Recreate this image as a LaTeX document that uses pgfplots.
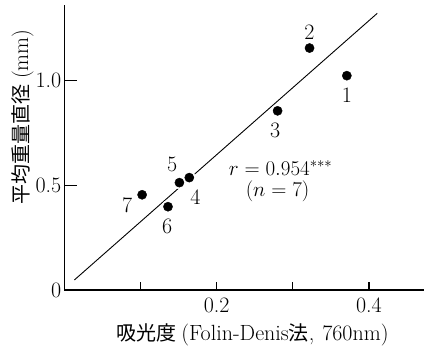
\documentclass[border=0pt]{standalone}
\usepackage{fix-cm}
\usepackage{fontspec}
\usepackage{pgfplots}
\pgfplotsset{compat=1.18}
\newfontfamily\cjk{Noto Sans CJK JP}
\newcommand\bigf{\fontsize{22}{26}\selectfont}
\newcommand\mathf{\fontsize{21}{25}\selectfont}
\newcommand\cjkf{\cjk\fontsize{20}{24}\selectfont}
\begin{document}
\begin{tikzpicture}[x=1pt,y=1pt, every node/.append style={font=\bigf}]
\useasboundingbox (-64.5,-61) rectangle (359.5,290);
\begin{axis}[
  at={(0,0)}, anchor=south west,
  scale only axis, width=359.5pt, height=285pt,
  xmin=0, xmax=0.4724, ymin=0, ymax=1.3617,
  axis lines=left,
  axis line style={-, line width=1.2pt, black},
  tick align=inside, major tick length=8pt,
  tick style={line width=1.2pt, black},
  xtick={0.1,0.2,0.3,0.4}, xticklabels={,0.2,,0.4},
  ytick={0}, yticklabels={0},
  extra y ticks={0.5,1}, extra y tick labels={0.5,1.0},
  extra y tick style={major tick length=13pt},
  /pgf/number format/assume math mode=true,
  ticklabel style={font=\bigf, inner sep=3pt},
  xticklabel style={yshift=-5pt},
  clip=false,
]
\addplot[black, line width=0.9pt, no marks] coordinates {(0.013,0.048) (0.411,1.322)};
\addplot[only marks, mark=*, mark size=6.3pt, mark options={draw=white, fill=white}] coordinates {
(0.371,1.024) (0.322,1.156) (0.280,0.856) (0.164,0.537) (0.151,0.513) (0.136,0.398) (0.102,0.455)};
\addplot[only marks, mark=*, mark size=4.6pt, mark options={draw=black, fill=black}] coordinates {
(0.371,1.024) (0.322,1.156) (0.280,0.856) (0.164,0.537) (0.151,0.513) (0.136,0.398) (0.102,0.455)};
\node[font=\bigf] at (axis cs:0.371,0.932) {1};
\node[font=\bigf] at (axis cs:0.322,1.233) {2};
\node[font=\bigf] at (axis cs:0.277,0.764) {3};
\node[font=\bigf] at (axis cs:0.172,0.446) {4};
\node[font=\bigf] at (axis cs:0.1415,0.602) {5};
\node[font=\bigf] at (axis cs:0.135,0.306) {6};
\node[font=\bigf] at (axis cs:0.0824,0.406) {7};
\node[font=\mathf, inner sep=0pt] at (axis cs:0.284,0.583) {$r=0.954^{***}$};
\node[font=\mathf, inner sep=0pt] at (axis cs:0.280,0.470) {$(n=7)$};
\end{axis}
\node[font=\bigf, inner sep=0pt, rotate=90, anchor=west] at (-42,85) {{\cjkf 平均重量直径}\hspace{6pt}(mm)};
\node[font=\bigf, inner sep=0pt] at (188,-45) {{\cjkf 吸光度}\hspace{5pt}(Folin-Denis{\cjkf 法},\hspace{8pt}760nm)};
\end{tikzpicture}
\end{document}
